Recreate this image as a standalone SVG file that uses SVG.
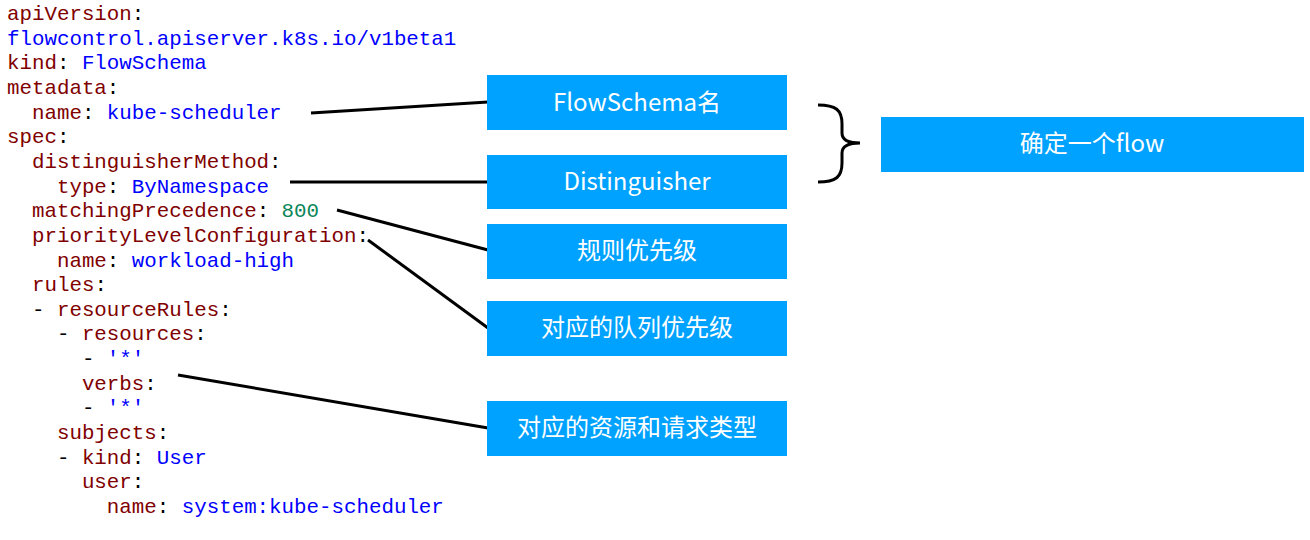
<svg xmlns="http://www.w3.org/2000/svg" width="1310" height="540" viewBox="0 0 1310 540">
<style>
.code{font-family:"Liberation Mono","DejaVu Sans Mono",monospace;font-size:20.8px;white-space:pre;fill:#000}
.k{fill:#800000}
.v{fill:#0000ff}
.n{fill:#098658}
.box{fill:#00a2ff}
.lbl{font-family:"Noto Sans CJK SC","Noto Sans",sans-serif;font-size:24px;fill:#fff;text-anchor:middle}
.conn{stroke:#000;stroke-width:3;fill:none}
</style>
<rect width="1310" height="540" fill="#fff"/>
<g id="code">
<text class="code" x="7" y="20" xml:space="preserve"><tspan class="k">apiVersion</tspan>:</text>
<text class="code" x="7" y="44.65" xml:space="preserve"><tspan class="v">flowcontrol.apiserver.k8s.io/v1beta1</tspan></text>
<text class="code" x="7" y="69.3" xml:space="preserve"><tspan class="k">kind</tspan>: <tspan class="v">FlowSchema</tspan></text>
<text class="code" x="7" y="93.95" xml:space="preserve"><tspan class="k">metadata</tspan>:</text>
<text class="code" x="7" y="118.6" xml:space="preserve">  <tspan class="k">name</tspan>: <tspan class="v">kube-scheduler</tspan></text>
<text class="code" x="7" y="143.25" xml:space="preserve"><tspan class="k">spec</tspan>:</text>
<text class="code" x="7" y="167.9" xml:space="preserve">  <tspan class="k">distinguisherMethod</tspan>:</text>
<text class="code" x="7" y="192.55" xml:space="preserve">    <tspan class="k">type</tspan>: <tspan class="v">ByNamespace</tspan></text>
<text class="code" x="7" y="217.2" xml:space="preserve">  <tspan class="k">matchingPrecedence</tspan>: <tspan class="n">800</tspan></text>
<text class="code" x="7" y="241.85" xml:space="preserve">  <tspan class="k">priorityLevelConfiguration</tspan>:</text>
<text class="code" x="7" y="266.5" xml:space="preserve">    <tspan class="k">name</tspan>: <tspan class="v">workload-high</tspan></text>
<text class="code" x="7" y="291.15" xml:space="preserve">  <tspan class="k">rules</tspan>:</text>
<text class="code" x="7" y="315.8" xml:space="preserve">  - <tspan class="k">resourceRules</tspan>:</text>
<text class="code" x="7" y="340.45" xml:space="preserve">    - <tspan class="k">resources</tspan>:</text>
<text class="code" x="7" y="365.1" xml:space="preserve">      - <tspan class="v">'*'</tspan></text>
<text class="code" x="7" y="389.75" xml:space="preserve">      <tspan class="k">verbs</tspan>:</text>
<text class="code" x="7" y="414.4" xml:space="preserve">      - <tspan class="v">'*'</tspan></text>
<text class="code" x="7" y="439.05" xml:space="preserve">    <tspan class="k">subjects</tspan>:</text>
<text class="code" x="7" y="463.7" xml:space="preserve">    - <tspan class="k">kind</tspan>: <tspan class="v">User</tspan></text>
<text class="code" x="7" y="488.35" xml:space="preserve">      <tspan class="k">user</tspan>:</text>
<text class="code" x="7" y="513" xml:space="preserve">        <tspan class="k">name</tspan>: <tspan class="v">system:kube-scheduler</tspan></text>
</g>
<g id="connectors">
<line class="conn" x1="311" y1="113" x2="488" y2="102"/>
<line class="conn" x1="290" y1="182" x2="488" y2="182"/>
<line class="conn" x1="337" y1="210" x2="488" y2="250"/>
<line class="conn" x1="368" y1="240" x2="488" y2="328"/>
<line class="conn" x1="178" y1="375" x2="488" y2="428"/>
<path class="conn" d="M818,105 C836,105 842,110 842,124 L842,133 C842,140 848,143 860,143 C848,143 842,146 842,153 L842,163 C842,177 836,182 818,182"/>
</g>
<g id="n1"><rect class="box" x="487" y="75" width="300" height="55"/><text class="lbl" x="637" y="111">FlowSchema名</text></g>
<g id="n2"><rect class="box" x="487" y="155" width="300" height="54"/><text class="lbl" x="637" y="190">Distinguisher</text></g>
<g id="n3"><rect class="box" x="487" y="224" width="300" height="55"/><text class="lbl" x="637" y="259">规则优先级</text></g>
<g id="n4"><rect class="box" x="487" y="301" width="300" height="55"/><text class="lbl" x="637" y="336">对应的队列优先级</text></g>
<g id="n5"><rect class="box" x="487" y="401" width="300" height="55"/><text class="lbl" x="637" y="436">对应的资源和请求类型</text></g>
<g id="n6"><rect class="box" x="881" y="117" width="423" height="55"/><text class="lbl" x="1092" y="152">确定一个flow</text></g>
</svg>
